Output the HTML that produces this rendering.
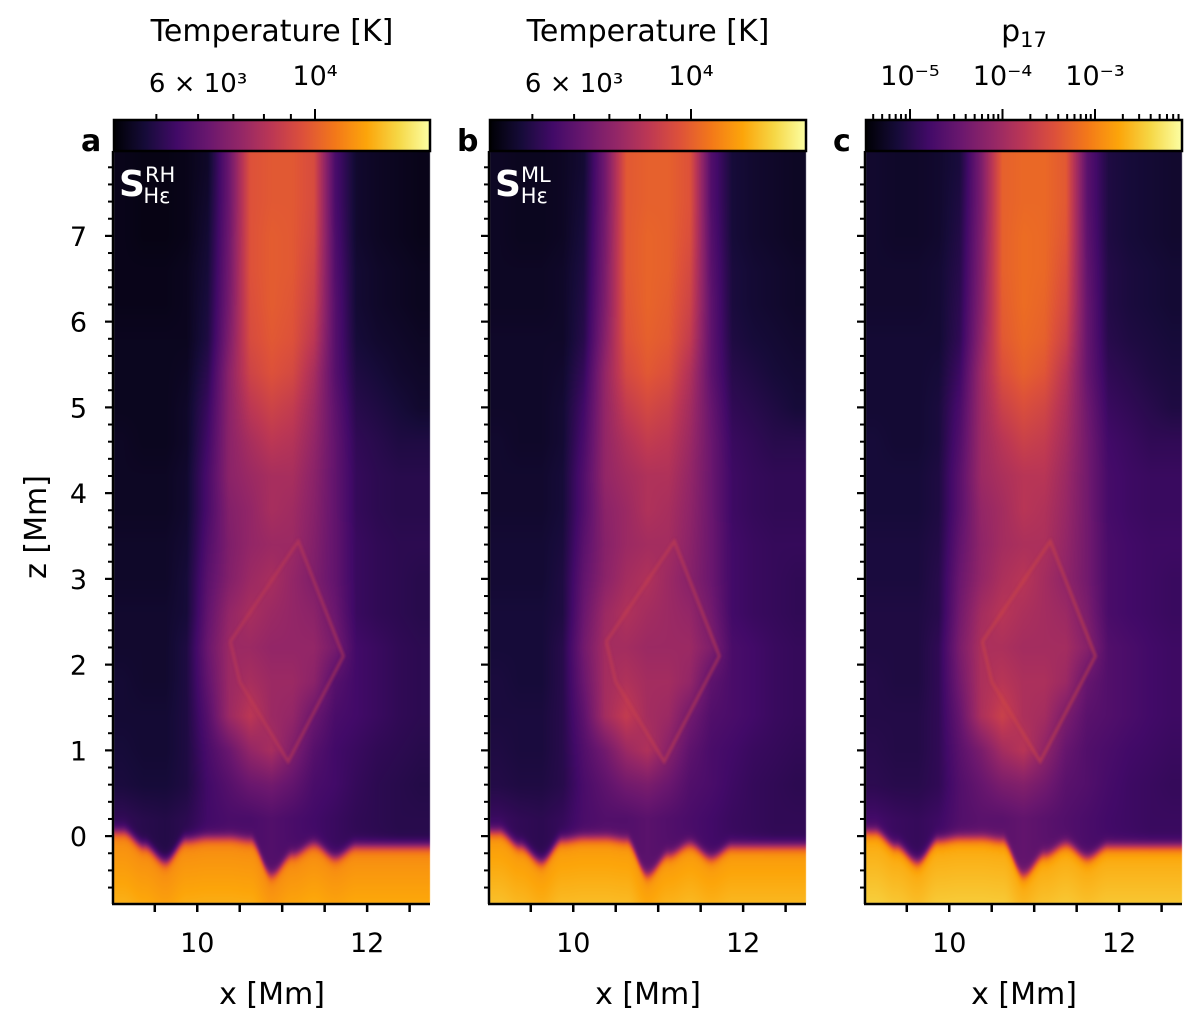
<!DOCTYPE html>
<html><head><meta charset="utf-8"><style>
html,body{margin:0;padding:0;background:#fff;}
#wrap{position:relative;width:1200px;height:1027px;}
#hm{position:absolute;left:0;top:0;}
svg{position:absolute;left:0;top:0;display:block;font-family:"DejaVu Sans","Liberation Sans",sans-serif;}
</style></head><body>
<div id="wrap">
<canvas id="hm" width="1200" height="1027"></canvas>
<svg id="fig" width="1200" height="1027" viewBox="0 0 1200 1027" xmlns="http://www.w3.org/2000/svg">
<defs>
<filter id="blur2"><feGaussianBlur stdDeviation="1.4"/></filter>
</defs>
</svg>
</div>
<script>
// ---- data ----
const zTicks=[0,1,2,3,4,5,6,7];
const xTicks=[10,12];
const xMinor=[9.5,10.5,11,11.5,12.5];
const tempTicksMajor=[10000];
const tempTickLabels=["10\u2074"];
const tempTicksMinor=[5000,6000,7000,8000,9000];
const pDecades=[-5,-4,-3];
const pLabels=["10\u207B\u2075","10\u207B\u2074","10\u207B\u00B3"];
const gridZ=[7.8,7.4,7.0,6.6,6.2,5.8,5.4,5.0,4.6,4.2,3.8,3.4,3.0,2.6,2.2,1.8,1.4,1.0,0.6,0.2];
const gridX=[9.125,9.375,9.625,9.875,10.125,10.375,10.625,10.875,11.125,11.375,11.625,11.875,12.125,12.375,12.625];
const grid=[
[.04,.03,.03,.04,.07,.3,.6,.62,.62,.58,.22,.08,.06,.05,.04],
[.04,.03,.03,.04,.08,.3,.6,.62,.62,.58,.22,.08,.06,.05,.04],
[.04,.03,.03,.04,.09,.31,.6,.63,.62,.57,.23,.08,.06,.05,.04],
[.04,.04,.04,.05,.1,.32,.6,.63,.62,.55,.24,.09,.07,.06,.05],
[.04,.04,.04,.05,.11,.33,.59,.63,.61,.53,.25,.09,.07,.06,.05],
[.05,.05,.05,.05,.12,.35,.58,.62,.6,.5,.25,.1,.08,.07,.06],
[.05,.05,.05,.06,.15,.38,.55,.6,.57,.45,.25,.12,.1,.08,.07],
[.05,.05,.05,.07,.18,.38,.5,.55,.52,.42,.27,.14,.12,.1,.08],
[.06,.05,.05,.07,.2,.38,.45,.5,.48,.4,.28,.16,.14,.12,.12],
[.06,.06,.06,.08,.22,.38,.42,.45,.45,.38,.28,.17,.15,.14,.14],
[.06,.06,.06,.08,.22,.36,.4,.45,.43,.37,.28,.17,.15,.14,.14],
[.07,.07,.07,.09,.24,.35,.4,.42,.42,.36,.28,.18,.16,.15,.15],
[.07,.07,.07,.1,.26,.36,.42,.45,.4,.35,.28,.18,.16,.15,.14],
[.08,.08,.08,.1,.28,.4,.45,.42,.4,.38,.3,.18,.16,.15,.14],
[.08,.08,.08,.12,.3,.42,.42,.4,.4,.4,.33,.2,.18,.16,.15],
[.09,.08,.08,.12,.28,.42,.45,.42,.42,.38,.25,.2,.18,.16,.15],
[.09,.09,.09,.12,.25,.42,.5,.42,.4,.3,.22,.2,.18,.16,.15],
[.1,.09,.09,.12,.22,.3,.4,.45,.35,.25,.2,.18,.16,.15,.14],
[.11,.1,.1,.12,.2,.25,.3,.32,.28,.22,.2,.17,.15,.14,.13],
[.16,.14,.13,.15,.2,.22,.22,.24,.22,.2,.18,.16,.15,.14,.14]];
const boundaryZ=[0.05,-0.12,-0.3,-0.05,-0.02,-0.02,-0.05,-0.45,-0.22,-0.1,-0.25,-0.12,-0.12,-0.12,-0.12];
const photoTop=0.74, photoBottom=0.82;
const filamentX=[10.39,11.19,11.72,11.07,10.5,10.39];
const filamentZ=[2.27,3.44,2.1,0.87,1.8,2.27];
const panelBoost=[0,0.02,0.04];
// ---- geometry ----
const panels=[{x0:114,label:"a",title:"Temperature [K]",s:"RH"},{x0:490,label:"b",title:"Temperature [K]",s:"ML"},{x0:866,label:"c",title:"p",s:null}];
const W=316,yTop=151,yBot=903;
const xmin=9.02,xmax=12.74,zmin=-0.78,zmax=7.99;
const sx=(p,x)=>p.x0+(x-xmin)/(xmax-xmin)*W;
const sz=z=>yBot-(z-zmin)/(zmax-zmin)*(yBot-yTop);
const stops=["#000004","#160b39","#420a68","#6a176e","#932667","#bc3754","#dd513a","#f37819","#fca50a","#f6d746","#fcffa4"];
function hex(h){return [1,3,5].map(i=>parseInt(h.substr(i,2),16));}
const stopRGB=stops.map(hex);
function infernoArr(v){v=Math.max(0,Math.min(1,v));const f=v*10,i=Math.min(9,Math.floor(f)),t=f-i;const a=stopRGB[i],b=stopRGB[i+1];return a.map((c,k)=>Math.round(c+(b[k]-c)*t));}
function inferno(v){return "rgb("+infernoArr(v).join(",")+")";}
function lin(arr,pos){pos=Math.max(0,Math.min(arr.length-1,pos));const i=Math.min(arr.length-2,Math.floor(pos)),t=pos-i;return arr[i]+(arr[i+1]-arr[i])*t;}
function smooth(arr,pos){pos=Math.max(0,Math.min(arr.length-1,pos));const i=Math.min(arr.length-2,Math.floor(pos));let t=pos-i;t=t*t*(3-2*t);return arr[i]+(arr[i+1]-arr[i])*t;}
function gridVal(x,z){
  const cx=(x-gridX[0])/0.25, rz=(gridZ[0]-z)/0.4;
  const r=Math.max(0,Math.min(gridZ.length-1,rz));const i=Math.min(gridZ.length-2,Math.floor(r)),t=r-i;
  return lin(grid[i],cx)*(1-t)+lin(grid[i+1],cx)*t;}
const cv=document.getElementById('hm'),ctx=cv.getContext('2d');
panels.forEach((p,pi)=>{
  const h=yBot-yTop;const img=ctx.createImageData(W,h);
  for(let py=0;py<h;py++){const z=zmax-(py+0.5)/h*(zmax-zmin);
    for(let px=0;px<W;px++){const x=xmin+(px+0.5)/W*(xmax-xmin);
      const bz=smooth(boundaryZ,(x-gridX[0])/0.25);
      const up=gridVal(x,z)+panelBoost[pi];
      const ph=photoTop+(photoBottom-photoTop)*Math.max(0,Math.min(1,(bz-z)/0.8))+panelBoost[pi]*1.5;
      const d=(z-bz)/0.035; const w=1/(1+Math.exp(-d));
      const v=up*w+ph*(1-w);
      const c=infernoArr(v);const k=(py*W+px)*4;img.data[k]=c[0];img.data[k+1]=c[1];img.data[k+2]=c[2];img.data[k+3]=255;}}
  ctx.putImageData(img,p.x0,yTop);
});
const NS="http://www.w3.org/2000/svg";
const svg=document.getElementById('fig');
function mk(tag,attrs,parent){const e=document.createElementNS(NS,tag);for(const k in attrs)e.setAttribute(k,attrs[k]);(parent||svg).appendChild(e);return e;}
const defs=svg.querySelector('defs');
const FT=30, FK=27;
panels.forEach((p,pi)=>{
  const fil=mk('polyline',{points:filamentX.map((x,i)=>sx(p,x)+","+sz(filamentZ[i])).join(" "),fill:"none",stroke:inferno(0.52+panelBoost[pi]),'stroke-width':3,'stroke-opacity':0.5,filter:'url(#blur2)'});
  
  
  const ax=mk('g',{stroke:'#000','stroke-width':2.5});
  
  
  mk('line',{x1:p.x0-1,y1:yTop,x2:p.x0-1,y2:yBot+1},ax);
  mk('line',{x1:p.x0-2,y1:yBot+1,x2:p.x0+W,y2:yBot+1},ax);
  for(let z=-0.6;z<=7.81;z+=0.2){const y=sz(z);const maj=Math.abs(z-Math.round(z))<0.01;mk('line',{x1:p.x0-1-(maj?8:5),y1:y,x2:p.x0-1,y2:y,'stroke-width':maj?2.2:2},ax);}
  xTicks.concat(xMinor).forEach(x=>{const X=sx(p,x);mk('line',{x1:X,y1:yBot+1,x2:X,y2:yBot+9},ax);});
  xTicks.forEach(x=>{const t=mk('text',{x:sx(p,x),y:952,'font-size':FK,'text-anchor':'middle',fill:'#000'});t.textContent=x;});
  const xl=mk('text',{x:p.x0+158,y:1004,'font-size':FT,'text-anchor':'middle',fill:'#000'});xl.textContent='x [Mm]';
  
  const gid='cbg'+pi;const lg=mk('linearGradient',{id:gid},defs);
  for(let i=0;i<=20;i++)mk('stop',{offset:(i/20),'stop-color':inferno(i/20)},lg);
  const cb=mk('rect',{x:p.x0,y:120,width:W,height:31,fill:'url(#'+gid+')',stroke:'#000','stroke-width':2.5});
  
  const pl=mk('text',{x:p.x0-33,y:151,'font-size':FT,'font-weight':'bold',fill:'#000'});pl.textContent=p.label;
  
  if(p.s){const st=mk('text',{x:p.x0+5,y:196,'font-size':36,'font-weight':'bold',fill:'#fff'});st.innerHTML='S<tspan font-size="21" font-weight="normal" dy="-14">'+p.s+'</tspan><tspan font-size="21" font-weight="normal" dx="-'+(p.s=="RH"?32:30)+'" dy="21">H\u03B5</tspan>';
    }
  const tk=mk('g',{stroke:'#000','stroke-width':2});
  if(pi<2){
    const tx=T=>p.x0+201+(Math.log10(T)-4)*527;
    tempTicksMinor.forEach(T=>mk('line',{x1:tx(T),y1:119,x2:tx(T),y2:114},tk));
    tempTicksMajor.forEach(T=>mk('line',{x1:tx(T),y1:119,x2:tx(T),y2:109},tk));
    const l1=mk('text',{x:tx(6000),y:92,'font-size':FK-1,'text-anchor':'middle',fill:'#000'});l1.textContent='6 \u00D7 10\u00B3';
    
    tempTicksMajor.forEach((T,i)=>{const l=mk('text',{x:tx(T),y:85,'font-size':FK,'text-anchor':'middle',fill:'#000'});l.textContent=tempTickLabels[i];});
    const t=mk('text',{x:p.x0+158,y:41,'font-size':FT,'text-anchor':'middle',fill:'#000'});t.textContent=p.title;
    
  }else{
    const tx=lv=>p.x0+44+(lv+5)*92.5;
    [-6,-5,-4,-3].forEach(d=>{for(let m=2;m<10;m++){const X=tx(d+Math.log10(m));if(X>=p.x0&&X<=p.x0+W)mk('line',{x1:X,y1:119,x2:X,y2:114},tk);}});
    pDecades.forEach((d,i)=>{mk('line',{x1:tx(d),y1:119,x2:tx(d),y2:109},tk);const l=mk('text',{x:tx(d),y:85,'font-size':FK,'text-anchor':'middle',fill:'#000'});l.textContent=pLabels[i];});
    const t=mk('text',{x:p.x0+158,y:41,'font-size':FT,'text-anchor':'middle',fill:'#000'});t.innerHTML='p<tspan font-size="21" dy="6">17</tspan>';
    
  }
});
zTicks.forEach(z=>{const t=mk('text',{x:87,y:sz(z)+10,'font-size':FK,'text-anchor':'end',fill:'#000'});t.textContent=z;});
const yl=mk('text',{x:0,y:0,'font-size':FT,'text-anchor':'middle',fill:'#000',transform:'translate(46,527) rotate(-90)'});yl.textContent='z [Mm]';

</script>
</body></html>
